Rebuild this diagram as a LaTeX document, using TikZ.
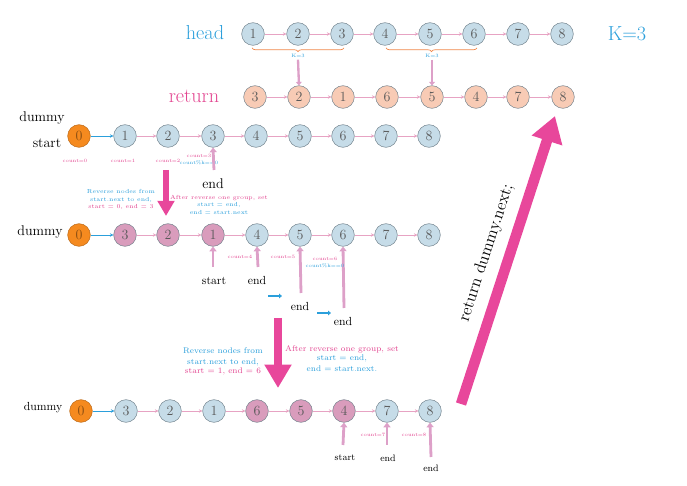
\documentclass[tikz,border=0pt]{standalone}
\usetikzlibrary{arrows.meta,decorations.pathreplacing,positioning}
\definecolor{nodeblue}{HTML}{C6DCE8}
\definecolor{nodeline}{HTML}{6F7F8A}
\definecolor{dummyorange}{HTML}{F58A1F}
\definecolor{mauve}{HTML}{D99CBC}
\definecolor{salmon}{HTML}{F8CBB5}
\definecolor{linkpink}{HTML}{E7A3C3}
\definecolor{textblue}{HTML}{2B9FDB}
\definecolor{textpink}{HTML}{E2438F}
\definecolor{bigpink}{HTML}{E8479B}
\definecolor{braceorange}{HTML}{F0874A}
\definecolor{uppink}{HTML}{DDA0C8}
\tikzset{
  lnode/.style={circle, draw=nodeline, fill=nodeblue, minimum size=0.68cm, inner sep=0pt, text=black!65, font=\large},
  dnode/.style={lnode, draw=dummyorange!75!black, fill=dummyorange, text=dummyorange!55!black},
  mnode/.style={lnode, fill=mauve},
  rnode/.style={lnode, fill=salmon},
  link/.style={-{Stealth[length=3pt,width=3pt]}, draw=linkpink, line width=0.6pt},
  bluelink/.style={-{Stealth[length=3pt,width=3pt]}, draw=textblue, line width=0.6pt},
  uparrow/.style={-{Triangle[length=4pt,width=6pt]}, draw=uppink, line width=2.4pt},
  smallblue/.style={-{Triangle[length=2.5pt,width=4pt]}, draw=textblue, line width=1.6pt},
  kbrace/.style={decorate, decoration={brace, mirror, amplitude=3pt}, draw=braceorange, line width=0.6pt},
  tinytext/.style={font=\fontsize{4.2}{5}\selectfont, text=textpink, inner sep=0.5pt},
  tinyblue/.style={font=\fontsize{4.2}{5}\selectfont, text=textblue, inner sep=0.5pt},
  note/.style={align=center, font=\fontsize{5}{6.5}\selectfont, inner sep=0.5pt},
  bignote/.style={align=center, font=\fontsize{7}{9.5}\selectfont, inner sep=0.5pt},
  label/.style={font=\large, text=black},
  smalllabel/.style={font=\footnotesize, text=black}
}
\begin{document}
\begin{tikzpicture}[x=0.03cm, y=-0.03cm]
\useasboundingbox (0,0) rectangle (687,486);

% head row
\node[font=\LARGE, text=textblue] (headlbl) at (205,33) {head};
\node[lnode] (h1) at (253,34) {1};
\node[lnode] (h2) at (298,34) {2};
\node[lnode] (h3) at (342,34) {3};
\node[lnode] (h4) at (385,34) {4};
\node[lnode] (h5) at (430,34) {5};
\node[lnode] (h6) at (474,34) {6};
\node[lnode] (h7) at (518,34) {7};
\node[lnode] (h8) at (562,34) {8};
\node[font=\LARGE, text=textblue] (klbl) at (627,34) {K=3};
\draw[link] (h1) -- (h2);
\draw[link] (h2) -- (h3);
\draw[link] (h3) -- (h4);
\draw[link] (h4) -- (h5);
\draw[link] (h5) -- (h6);
\draw[link] (h6) -- (h7);
\draw[link] (h7) -- (h8);
\draw[kbrace] (252,48) -- (344,48);
\draw[kbrace] (386,48) -- (477,48);
\node[tinyblue] (k1) at (298,56) {K=3};
\node[tinyblue] (k2) at (432,56) {K=3};

% return row
\node[font=\LARGE, text=textpink] (retlbl) at (194,96) {return};
\node[rnode] (r1) at (255,97) {3};
\node[rnode] (r2) at (299,97) {2};
\node[rnode] (r3) at (343,97) {1};
\node[rnode] (r4) at (387,97) {6};
\node[rnode] (r5) at (432,97) {5};
\node[rnode] (r6) at (476,97) {4};
\node[rnode] (r7) at (518,97) {7};
\node[rnode] (r8) at (563,97) {8};
\draw[link] (r1) -- (r2);
\draw[link] (r2) -- (r3);
\draw[link] (r3) -- (r4);
\draw[link] (r4) -- (r5);
\draw[link] (r5) -- (r6);
\draw[link] (r6) -- (r7);
\draw[link] (r7) -- (r8);
\draw[-{Triangle[length=3pt,width=5pt]}, draw=uppink, line width=2pt] ([yshift=-1pt]k1.south) -- (r2.north);
\draw[-{Triangle[length=3pt,width=5pt]}, draw=uppink, line width=2pt] ([yshift=-1pt]k2.south) -- (r5.north);

% first pass
\node[label] (dummy1) at (42,118) {dummy};
\node[label] (start1) at (47,143) {start};
\node[dnode] (a0) at (79,136) {0};
\node[lnode] (a1) at (125,136) {1};
\node[lnode] (a2) at (168,136) {2};
\node[lnode] (a3) at (213,136) {3};
\node[lnode] (a4) at (256,136) {4};
\node[lnode] (a5) at (300,136) {5};
\node[lnode] (a6) at (343,136) {6};
\node[lnode] (a7) at (386,136) {7};
\node[lnode] (a8) at (429,136) {8};
\draw[bluelink] (a0) -- (a1);
\draw[link] (a1) -- (a2);
\draw[link] (a2) -- (a3);
\draw[link] (a3) -- (a4);
\draw[link] (a4) -- (a5);
\draw[link] (a5) -- (a6);
\draw[link] (a6) -- (a7);
\draw[link] (a7) -- (a8);
\node[tinytext] (c0) at (75,161) {count=0};
\node[tinytext] (c1) at (123,161) {count=1};
\node[tinytext] (c2) at (168,161) {count=2};
\node[tinytext] (c3) at (199,156) {count=3};
\node[tinyblue] (c3b) at (199,163) {count\%k==0};
\node[label] (end1) at (213,184) {end};
\draw[uparrow] (214,170) -- (a3.south);

% reverse first group
\draw[-{Triangle[length=13pt,width=14pt]}, draw=bigpink, line width=5pt] (166,170) -- (166,216);
\node[note, text=textblue] (rev1) at (121,196) {Reverse nodes from\\start.next to end,};
\node[note, text=textpink, below=0pt of rev1] (rev1b) {start = 0, end = 3};
\node[note, text=textpink] (set1) at (219,198) {After reverse one group, set};
\node[note, text=textblue, below=0pt of set1] (set1b) {start = end,\\end = start.next};

% second pass
\node[label] (dummy2) at (40,232) {dummy};
\node[dnode] (b0) at (79,235) {0};
\node[mnode] (b1) at (125,235) {3};
\node[mnode] (b2) at (168,235) {2};
\node[mnode] (b3) at (213,235) {1};
\node[lnode] (b4) at (257,235) {4};
\node[lnode] (b5) at (300,235) {5};
\node[lnode] (b6) at (343,235) {6};
\node[lnode] (b7) at (386,235) {7};
\node[lnode] (b8) at (429,235) {8};
\draw[bluelink] (b0) -- (b1);
\draw[link] (b1) -- (b2);
\draw[link] (b2) -- (b3);
\draw[link] (b3) -- (b4);
\draw[link] (b4) -- (b5);
\draw[link] (b5) -- (b6);
\draw[link] (b6) -- (b7);
\draw[link] (b7) -- (b8);
\node[font=\normalsize] (start2) at (214,281) {start};
\node[font=\normalsize] (end2) at (257,281) {end};
\node[font=\normalsize] (end3) at (300,307) {end};
\node[font=\normalsize] (end4) at (343,322) {end};
\draw[uparrow] (213,267) -- (b3.south);
\draw[uparrow] (258,267) -- (b4.south);
\draw[uparrow] (301,293) -- (b5.south);
\draw[uparrow] (344,308) -- (b6.south);
\node[tinytext] (c4) at (240,257) {count=4};
\node[tinytext] (c5) at (283,257) {count=5};
\node[tinytext] (c6) at (325,259) {count=6};
\node[tinyblue] (c6b) at (325,266) {count\%k==0};
\coordinate (m1) at (268,296);
\coordinate (m2) at (282,296);
\coordinate (m3) at (317,313);
\coordinate (m4) at (331,313);
\draw[smallblue] (m1) -- (m2);
\draw[smallblue] (m3) -- (m4);

% reverse second group
\draw[-{Triangle[length=20pt,width=22pt]}, draw=bigpink, line width=7.5pt] (278,318) -- (278,388);
\node[bignote, text=textblue] (rev2) at (223,357) {Reverse nodes from\\start.next to end,};
\node[bignote, text=textpink, below=0pt of rev2] (rev2b) {start = 1, end = 6};
\node[bignote, text=textpink] (set2) at (342,349) {After reverse one group, set};
\node[bignote, text=textblue, below=0pt of set2] (set2b) {start = end,\\end = start.next.};

% third pass
\node[font=\normalsize] (dummy3) at (43,408) {dummy};
\node[dnode] (d0) at (81,411) {0};
\node[lnode] (d1) at (126,411) {3};
\node[lnode] (d2) at (170,411) {2};
\node[lnode] (d3) at (214,411) {1};
\node[mnode] (d4) at (257,411) {6};
\node[mnode] (d5) at (301,411) {5};
\node[mnode] (d6) at (344,411) {4};
\node[lnode] (d7) at (387,411) {7};
\node[lnode] (d8) at (430,411) {8};
\draw[bluelink] (d0) -- (d1);
\draw[link] (d1) -- (d2);
\draw[link] (d2) -- (d3);
\draw[link] (d3) -- (d4);
\draw[link] (d4) -- (d5);
\draw[link] (d5) -- (d6);
\draw[link] (d6) -- (d7);
\draw[link] (d7) -- (d8);
\node[smalllabel] (start3) at (345,458) {start};
\node[smalllabel] (end5) at (388,458) {end};
\node[smalllabel] (end6) at (431,468) {end};
\draw[uparrow] (343,445) -- (d6.south);
\draw[uparrow] (387,445) -- (d7.south);
\draw[uparrow] (431,457) -- (d8.south);
\node[tinytext] (c7) at (373,435) {count=7};
\node[tinytext] (c8) at (414,435) {count=8};

% back to the result
\coordinate (rbase) at (461,404);
\draw[-{Triangle[length=22pt,width=26pt]}, draw=bigpink, line width=9pt] (rbase) -- (555,116)
  node[midway, sloped, above=5pt, font=\Large, text=black] {return dummy.next;};
\end{tikzpicture}
\end{document}
